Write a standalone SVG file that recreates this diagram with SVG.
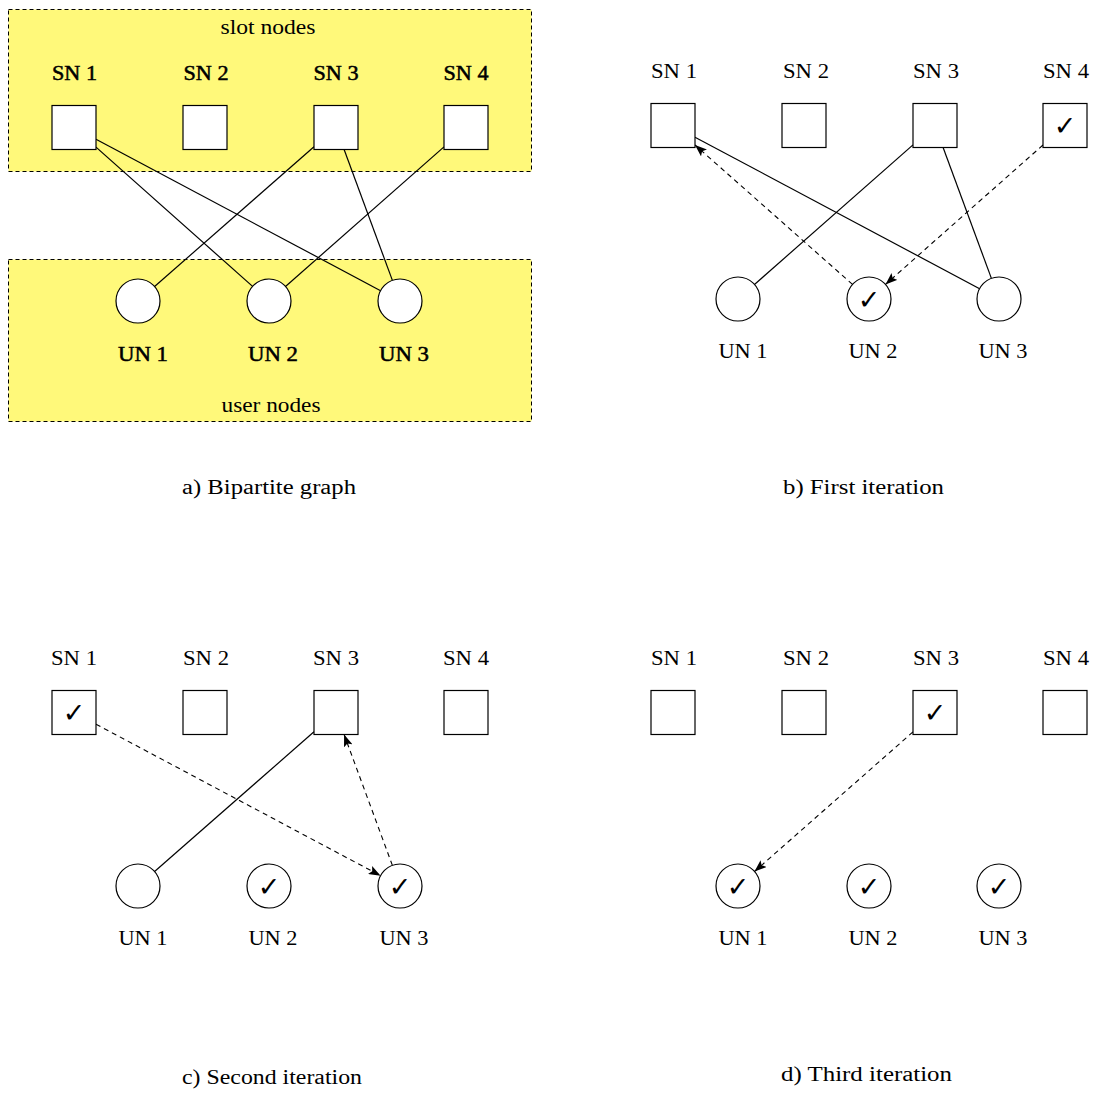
<svg xmlns="http://www.w3.org/2000/svg" width="1097" height="1094" viewBox="0 0 1097 1094">
<style>
text{font-family:"Liberation Serif","DejaVu Serif",serif;font-size:20px;fill:#000;text-anchor:middle}
.b{stroke:#000;stroke-width:0.5}
.region{fill:#fff97a;stroke:#000;stroke-width:1;stroke-dasharray:4,3}
.sq{fill:#fff;stroke:#000;stroke-width:1.2}
.ci{fill:#fff;stroke:#000;stroke-width:1.2}
.e{stroke:#000;stroke-width:1.2;fill:none}
.d{stroke:#000;stroke-width:1.1;fill:none;stroke-dasharray:5,4}
.ck{font-family:"DejaVu Sans",sans-serif;font-size:27px;dominant-baseline:central}
</style>
<defs>
<marker id="arr" viewBox="0 0 12 9" refX="12" refY="4.5" markerWidth="12" markerHeight="9" markerUnits="userSpaceOnUse" orient="auto">
<path d="M0,0 L12,4.5 L0,9 L2.5,4.5 z" fill="#000"/>
</marker>
</defs>

<!-- Panel a -->
<g id="slot-region"><rect class="region" x="8.5" y="9.5" width="523" height="162"/><text x="268" y="34" textLength="95" lengthAdjust="spacingAndGlyphs">slot nodes</text></g>
<g id="user-region"><rect class="region" x="8.5" y="259.5" width="523" height="162"/><text x="271" y="412" textLength="99" lengthAdjust="spacingAndGlyphs">user nodes</text></g>
<g id="a-edges">
<line class="e" x1="96" y1="147.1" x2="252.6" y2="286.4"/>
<line class="e" x1="96" y1="139.2" x2="380.6" y2="290.7"/>
<line class="e" x1="314" y1="146.8" x2="154.6" y2="286.5"/>
<line class="e" x1="344.1" y1="149.5" x2="392.4" y2="280.4"/>
<line class="e" x1="444" y1="146.9" x2="285.5" y2="286.5"/>
</g>
<g id="a-sn1"><text class="b" x="74.5" y="80" textLength="45" lengthAdjust="spacingAndGlyphs">SN 1</text><rect class="sq" x="52" y="105.5" width="44" height="44"/></g>
<g id="a-sn2"><text class="b" x="206" y="80" textLength="45" lengthAdjust="spacingAndGlyphs">SN 2</text><rect class="sq" x="183" y="105.5" width="44" height="44"/></g>
<g id="a-sn3"><text class="b" x="336" y="80" textLength="45" lengthAdjust="spacingAndGlyphs">SN 3</text><rect class="sq" x="314" y="105.5" width="44" height="44"/></g>
<g id="a-sn4"><text class="b" x="466" y="80" textLength="45" lengthAdjust="spacingAndGlyphs">SN 4</text><rect class="sq" x="444" y="105.5" width="44" height="44"/></g>
<g id="a-un1"><circle class="ci" cx="138" cy="301" r="22"/><text class="b" x="143" y="361" textLength="50" lengthAdjust="spacingAndGlyphs">UN 1</text></g>
<g id="a-un2"><circle class="ci" cx="269" cy="301" r="22"/><text class="b" x="273" y="361" textLength="50" lengthAdjust="spacingAndGlyphs">UN 2</text></g>
<g id="a-un3"><circle class="ci" cx="400" cy="301" r="22"/><text class="b" x="404" y="361" textLength="50" lengthAdjust="spacingAndGlyphs">UN 3</text></g>
<text id="cap-a" x="269" y="494" textLength="174" lengthAdjust="spacingAndGlyphs">a) Bipartite graph</text>

<!-- Panel b -->
<g id="b-edges">
<line class="e" x1="695" y1="137.2" x2="979.6" y2="288.7"/>
<line class="e" x1="913" y1="144.9" x2="754.5" y2="284.5"/>
<line class="e" x1="943.1" y1="147.5" x2="991.4" y2="278.4"/>
<line class="d" x1="852.5" y1="284.4" x2="695" y2="145" marker-end="url(#arr)"/>
<line class="d" x1="1043" y1="145" x2="885.5" y2="284.4" marker-end="url(#arr)"/>
</g>
<g id="b-sn1"><text x="674" y="78" textLength="46" lengthAdjust="spacingAndGlyphs">SN 1</text><rect class="sq" x="651" y="103.5" width="44" height="44"/></g>
<g id="b-sn2"><text x="806" y="78" textLength="46" lengthAdjust="spacingAndGlyphs">SN 2</text><rect class="sq" x="782" y="103.5" width="44" height="44"/></g>
<g id="b-sn3"><text x="936" y="78" textLength="46" lengthAdjust="spacingAndGlyphs">SN 3</text><rect class="sq" x="913" y="103.5" width="44" height="44"/></g>
<g id="b-sn4"><text x="1066" y="78" textLength="46" lengthAdjust="spacingAndGlyphs">SN 4</text><rect class="sq" x="1043" y="103.5" width="44" height="44"/><text class="ck" x="1065" y="125.5">✓</text></g>
<g id="b-un1"><circle class="ci" cx="738" cy="299" r="22"/><text x="743" y="358" textLength="49" lengthAdjust="spacingAndGlyphs">UN 1</text></g>
<g id="b-un2"><circle class="ci" cx="869" cy="299" r="22"/><text class="ck" x="869" y="299">✓</text><text x="873" y="358" textLength="49" lengthAdjust="spacingAndGlyphs">UN 2</text></g>
<g id="b-un3"><circle class="ci" cx="999" cy="299" r="22"/><text x="1003" y="358" textLength="49" lengthAdjust="spacingAndGlyphs">UN 3</text></g>
<text id="cap-b" x="863.5" y="494" textLength="161" lengthAdjust="spacingAndGlyphs">b) First iteration</text>

<!-- Panel c -->
<g id="c-edges">
<line class="e" x1="314" y1="731.8" x2="154.6" y2="871.5"/>
<line class="d" x1="96" y1="724.2" x2="380.6" y2="875.7" marker-end="url(#arr)"/>
<line class="d" x1="392.4" y1="865.4" x2="344.1" y2="734.5" marker-end="url(#arr)"/>
</g>
<g id="c-sn1"><text x="74" y="665" textLength="46" lengthAdjust="spacingAndGlyphs">SN 1</text><rect class="sq" x="52" y="690.5" width="44" height="44"/><text class="ck" x="74" y="712.5">✓</text></g>
<g id="c-sn2"><text x="206" y="665" textLength="46" lengthAdjust="spacingAndGlyphs">SN 2</text><rect class="sq" x="183" y="690.5" width="44" height="44"/></g>
<g id="c-sn3"><text x="336" y="665" textLength="46" lengthAdjust="spacingAndGlyphs">SN 3</text><rect class="sq" x="314" y="690.5" width="44" height="44"/></g>
<g id="c-sn4"><text x="466" y="665" textLength="46" lengthAdjust="spacingAndGlyphs">SN 4</text><rect class="sq" x="444" y="690.5" width="44" height="44"/></g>
<g id="c-un1"><circle class="ci" cx="138" cy="886" r="22"/><text x="143" y="945" textLength="49" lengthAdjust="spacingAndGlyphs">UN 1</text></g>
<g id="c-un2"><circle class="ci" cx="269" cy="886" r="22"/><text class="ck" x="269" y="886">✓</text><text x="273" y="945" textLength="49" lengthAdjust="spacingAndGlyphs">UN 2</text></g>
<g id="c-un3"><circle class="ci" cx="400" cy="886" r="22"/><text class="ck" x="400" y="886">✓</text><text x="404" y="945" textLength="49" lengthAdjust="spacingAndGlyphs">UN 3</text></g>
<text id="cap-c" x="272" y="1084" textLength="180" lengthAdjust="spacingAndGlyphs">c) Second iteration</text>

<!-- Panel d -->
<g id="d-edges">
<line class="d" x1="913" y1="731.9" x2="754.5" y2="871.5" marker-end="url(#arr)"/>
</g>
<g id="d-sn1"><text x="674" y="665" textLength="46" lengthAdjust="spacingAndGlyphs">SN 1</text><rect class="sq" x="651" y="690.5" width="44" height="44"/></g>
<g id="d-sn2"><text x="806" y="665" textLength="46" lengthAdjust="spacingAndGlyphs">SN 2</text><rect class="sq" x="782" y="690.5" width="44" height="44"/></g>
<g id="d-sn3"><text x="936" y="665" textLength="46" lengthAdjust="spacingAndGlyphs">SN 3</text><rect class="sq" x="913" y="690.5" width="44" height="44"/><text class="ck" x="935" y="712.5">✓</text></g>
<g id="d-sn4"><text x="1066" y="665" textLength="46" lengthAdjust="spacingAndGlyphs">SN 4</text><rect class="sq" x="1043" y="690.5" width="44" height="44"/></g>
<g id="d-un1"><circle class="ci" cx="738" cy="886" r="22"/><text class="ck" x="738" y="886">✓</text><text x="743" y="945" textLength="49" lengthAdjust="spacingAndGlyphs">UN 1</text></g>
<g id="d-un2"><circle class="ci" cx="869" cy="886" r="22"/><text class="ck" x="869" y="886">✓</text><text x="873" y="945" textLength="49" lengthAdjust="spacingAndGlyphs">UN 2</text></g>
<g id="d-un3"><circle class="ci" cx="999" cy="886" r="22"/><text class="ck" x="999" y="886">✓</text><text x="1003" y="945" textLength="49" lengthAdjust="spacingAndGlyphs">UN 3</text></g>
<text id="cap-d" x="866.5" y="1081" textLength="171" lengthAdjust="spacingAndGlyphs">d) Third iteration</text>
</svg>
